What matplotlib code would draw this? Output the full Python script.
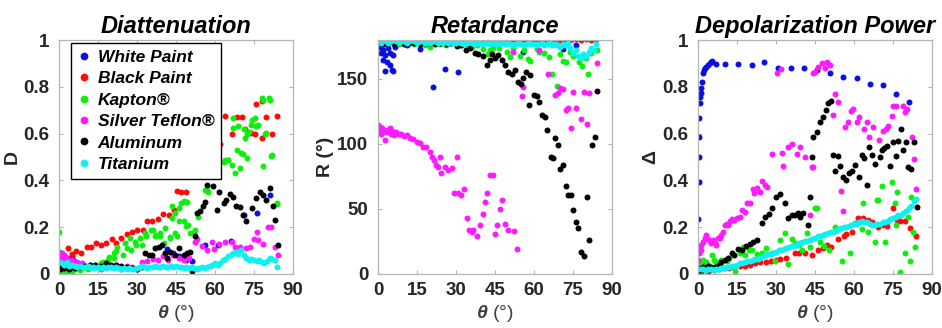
import numpy as np
import matplotlib
matplotlib.use('Agg')
import matplotlib.pyplot as plt

plt.rcParams['font.family'] = ['Liberation Sans', 'DejaVu Sans']
plt.rcParams['mathtext.fontset'] = 'custom'
plt.rcParams['mathtext.bf'] = 'Liberation Sans:bold:italic'
plt.rcParams['mathtext.rm'] = 'Liberation Sans'

materials = ['White Paint', 'Black Paint', 'Kapton®', 'Silver Teflon®', 'Aluminum', 'Titanium']
colors = ['#0a10e0', '#ff0a0a', '#10ee10', '#ff1aff', '#000000', '#10f0f0']

# angle grid for the densely sampled Titanium runs
theta_grid = np.arange(85)

# ---------------- Diattenuation D ----------------
d_white_t = [0.2, 0.5, 0.8, 1.2, 1.6, 2.0, 2.5, 3.0, 3.5, 4.0, 4.5, 5.0, 5.5, 6.0,
             41.5, 44, 46, 49, 51, 56, 61, 66, 71, 76, 81]
d_white = [0.03, 0.02, 0.05, 0.04, 0.06, 0.07, 0.05, 0.07, 0.06, 0.05, 0.07, 0.075, 0.06, 0.05,
           0.105, 0.09, 0.077, 0.06, 0.057, 0.124, 0.124, 0.14, 0.252, 0.26, 0.338]

d_black_t = [0.3, 0.8, 1.5, 2.3, 3.6, 5.0, 6.4, 8.3, 10.6, 12.2, 14.4, 16.3, 18.2, 20.3, 22.0,
             23.9, 26.2, 28.0, 30.0, 32.2, 33.8, 35.6, 37.9, 40.2, 42.3, 44.2, 45.3, 47.0, 48.8,
             55.5, 57.5, 61.8, 64.0, 66.5, 68.4, 70.3, 71.6, 73.7, 75.4, 75.8, 77.9, 77.9, 79.8,
             82.1, 84.0]
d_black = [0.09, 0.06, 0.075, 0.07, 0.11, 0.085, 0.097, 0.091, 0.117, 0.117, 0.134, 0.123, 0.134,
           0.151, 0.131, 0.155, 0.17, 0.177, 0.188, 0.188, 0.228, 0.228, 0.234, 0.256, 0.253,
           0.273, 0.356, 0.352, 0.352, 0.46, 0.52, 0.554, 0.675, 0.597, 0.67, 0.67, 0.618, 0.601,
           0.597, 0.726, 0.74, 0.582, 0.67, 0.598, 0.675]

d_kapton_t = [0.1, 0.3, 0.6, 1, 1.5, 2, 2.5, 3, 4, 5, 6, 7, 8, 9, 10, 11, 12, 13, 14, 15,
              16, 17, 18.8, 19.2, 21.1, 21.0, 22.0, 22.4,
              24.5, 25.5, 26.2, 27.5, 27.7, 29.4, 29.6, 31.3, 31.8, 33.2, 33.4, 35.5, 36, 37, 37.3,
              38.9, 39, 40.4, 40.9, 42.7, 42.8, 43.4, 43.6, 44.5, 44.7, 45.3, 46, 46, 47, 47.9,
              48.1, 48.7, 48.9, 49.3, 49.8, 50.4, 51.9, 52.4, 53.6, 56.2, 56.9, 57.5, 60.8, 61.3,
              63.3, 63.9, 65.1, 65.2, 66.4, 67.0, 67.1, 67.8, 68.4, 69, 69.7, 70.2, 70.7, 71.2,
              71.5, 72.2, 72.5, 73, 74, 74.1, 75.4, 75.8, 76.6, 77.9, 78.3, 78.6, 79.2, 79.6,
              80.7, 81.1, 81.7, 82, 83.7, 83.9]
d_kapton = [0.18, 0.095, 0.03, 0.01, 0.02, 0.04, 0.015, 0.01, 0.025, 0.01, 0.02, 0.03, 0.015,
            0.025, 0.03, 0.02, 0.035, 0.03, 0.04, 0.035, 0.045, 0.05, 0.06, 0.074, 0.067, 0.088,
            0.098, 0.114,
            0.081, 0.131, 0.11, 0.152, 0.103, 0.138, 0.124, 0.152, 0.124, 0.174, 0.16, 0.188,
            0.188, 0.16, 0.167, 0.16, 0.174, 0.131, 0.195, 0.157, 0.152, 0.238, 0.29, 0.26, 0.174,
            0.16, 0.28, 0.224, 0.302, 0.224, 0.312, 0.205, 0.309, 0.309, 0.209, 0.174, 0.181,
            0.188, 0.245, 0.359, 0.359, 0.352, 0.469, 0.5, 0.48, 0.487, 0.487, 0.487, 0.466,
            0.623, 0.665, 0.433, 0.53, 0.632, 0.454, 0.516, 0.511, 0.62, 0.58, 0.494, 0.597,
            0.608, 0.637, 0.658, 0.665, 0.632, 0.637, 0.75, 0.744, 0.463, 0.6, 0.601, 0.75,
            0.744, 0.506, 0.508, 0.302, 0.299]

d_teflon_t = [0.2, 0.6, 1, 1.5, 2, 2.5, 3, 4, 5, 6, 7, 8, 9, 10, 12, 14, 16, 18, 20, 22,
              24, 26, 28, 30, 32, 34, 36, 38, 40, 42, 44, 46, 48, 50, 52.5, 53, 55, 57, 58.9, 59.5,
              61.4, 64, 66.5, 67.8, 69.7, 72, 73.5, 75, 76, 76.7, 78.6, 80.5, 81.7, 83, 84.3]
d_teflon = [0.06, 0.08, 0.09, 0.07, 0.08, 0.06, 0.07, 0.05, 0.06, 0.045, 0.05, 0.04, 0.045,
            0.035, 0.04, 0.03, 0.02, 0.035, 0.03, 0.04, 0.02, 0.035, 0.03, 0.02, 0.05, 0.055,
            0.065, 0.06, 0.075, 0.06, 0.08, 0.07, 0.06, 0.07, 0.138, 0.15, 0.12, 0.1, 0.138,
            0.105, 0.128, 0.138, 0.138, 0.114, 0.117, 0.11, 0.117, 0.148, 0.181, 0.145, 0.128,
            0.2, 0.202, 0.117, 0.081]

d_alu_t = [0, 0.5, 1, 2, 3, 4, 5, 6, 8, 10, 12, 14, 16, 18, 20, 22, 24, 26, 28, 30,
           31.9, 33.2, 34.5, 35.8, 37, 38.3, 39.6, 40.9, 41.5, 42.8, 44.7, 46, 47.9, 49.2, 50.4,
           51.2, 52.5, 53.1, 54.2, 55.4, 56.3, 57, 59.2, 60.8, 61.4, 63.3, 64.3, 65.9, 67.1, 68.1,
           69.7, 70.9, 71.9, 74.1, 75.8, 77.3, 78.6, 79.8, 81.1, 82.4, 83, 84.3]
d_alu = [0.03, 0.02, 0.035, 0.025, 0.03, 0.02, 0.03, 0.025, 0.03, 0.035, 0.04, 0.04, 0.035,
         0.045, 0.04, 0.04, 0.035, 0.03, 0.025, 0.02, 0.031, 0.088, 0.08, 0.081, 0.11, 0.117,
         0.124, 0.088, 0.067, 0.095, 0.081, 0.11, 0.081, 0.09, 0.095, 0.014, 0.162, 0.259, 0.269,
         0.29, 0.309, 0.38, 0.376, 0.273, 0.352, 0.302, 0.316, 0.34, 0.33, 0.29, 0.288, 0.252,
         0.226, 0.28, 0.323, 0.352, 0.338, 0.316, 0.369, 0.29, 0.231, 0.124]

d_ti = [0.05, 0.045, 0.04, 0.05, 0.035, 0.04, 0.035, 0.03, 0.035, 0.03,
        0.03, 0.035, 0.03, 0.03, 0.025, 0.03, 0.025, 0.03, 0.025, 0.03,
        0.03, 0.025, 0.03, 0.025, 0.02, 0.025, 0.02, 0.025, 0.02, 0.02,
        0.025, 0.03, 0.035, 0.03, 0.025, 0.03, 0.03, 0.035, 0.03, 0.03,
        0.035, 0.03, 0.03, 0.035, 0.03, 0.035, 0.03, 0.03, 0.025, 0.03,
        0.025, 0.03, 0.025, 0.02, 0.025, 0.03, 0.025, 0.03, 0.035, 0.04,
        0.045, 0.04, 0.045, 0.06, 0.065, 0.075, 0.08, 0.09, 0.095, 0.085,
        0.1, 0.08, 0.07, 0.06, 0.065, 0.06, 0.055, 0.06, 0.05, 0.045,
        0.055, 0.07, 0.065, 0.06, 0.03]

# ---------------- Retardance R (deg) ----------------
r_white_t = [0.1, 0.5, 0.8, 1.2, 1.5, 2, 2, 2.7, 2.7, 3.3, 3.5, 4, 4.6, 4.6, 5.3, 5.9, 5.9,
             6.5, 11, 16.2, 21, 25.8, 30.9, 55.9, 71.3, 76.2]
r_white = [175, 178, 174.9, 170, 176.5, 172.3, 164.6, 168.5, 156.1, 163.3, 177, 173.6, 169.8,
           160.7, 156.9, 168.5, 156.1, 175, 176.2, 173.1, 144, 157.6, 155.6, 170.6, 173.1, 176.2]

r_black_t = list(range(0, 85, 2))
r_black = [179, 180, 179, 180, 179, 179, 180, 179, 180, 179, 180, 179, 180, 179, 180, 179, 180,
           179, 180, 181, 180, 179, 180, 181, 180, 179, 181, 180, 179, 181, 180, 181, 180, 179,
           181, 180, 181, 180, 181, 180, 181, 180, 181]

r_kapton_t = [0, 2, 4, 6, 8, 10, 12, 14, 16, 18, 19.9, 22, 24, 26, 28, 30, 32, 34, 36, 38,
              40.5, 42.4, 43.1, 44.3, 46.7, 49.5, 50.8, 52, 54.6, 56, 57.8, 58.5, 61, 62, 64,
              65.9, 66.8, 68.7, 70, 71.3, 72.3, 73.8, 75, 77.4, 78.3, 80, 80.9, 82, 84.1]
r_kapton = [178, 177, 179, 178, 177, 178, 179, 177, 178, 176, 174.5, 178, 177, 176, 178, 177,
            176, 177, 175, 176, 172.8, 169, 172.3, 173.6, 173.6, 171, 167, 174, 168, 172, 165.4,
            163.8, 173, 171, 170, 167, 153.5, 144.7, 169, 163.8, 163.3, 170.5, 168, 163.3, 160.2,
            166, 153.5, 170, 172.3]

r_teflon_t = [0, 0.3, 0.6, 1, 1.5, 2, 2.7, 3, 3.5, 4, 4.5, 5, 5.5, 6, 7, 8, 9, 10, 11, 12.2,
              13.5, 14.8, 16.1, 17.4, 18.6, 19.9, 20.8, 21.5, 22.2, 23.1, 23.8, 24.4, 25.7, 27,
              28.3, 29.2, 30.2, 30.8, 32.1, 33, 34.1, 35, 36, 36.6, 37.9, 39.2, 40.2, 41.1, 42,
              43.1, 44.1, 45, 45.9, 46.9, 47.6, 48.8, 50.1, 52, 52.3, 53.3, 55.3, 55.9, 62, 65.5,
              68.1, 69.4, 70, 71.3, 72.3, 73.2, 74.2, 75.1, 76.2, 78, 79.2, 80.3, 81.3, 84.3]
r_teflon = [114.7, 110, 113, 108, 112, 109, 103, 110, 111, 109, 112, 108, 110, 107, 109, 108,
            108, 106, 107, 104.9, 103.6, 101.8, 100.5, 97.9, 97.4, 94, 90.2, 87.6, 83.8, 82.5,
            90.2, 77.8, 82.5, 79.9, 81.2, 62.4, 90.2, 62.4, 60.6, 65, 43.3, 34, 32.2, 33.5, 28.9,
            37.4, 46.4, 55.4, 62.4, 76, 76, 30.4, 37.4, 50.3, 56.7, 38.1, 34, 171, 33, 19.3, 137,
            144, 172, 153.5, 137.5, 139.6, 142.7, 142.2, 126, 127.3, 112.3, 140, 127.3, 119.5,
            140, 115.7, 138.9, 162]

r_alu_t = [0, 2, 4, 6, 8, 10, 12, 14, 16, 18, 20, 22, 24, 26, 27.6, 30.2, 32, 34, 35.5, 37.3,
           38.6, 40.5, 41.8, 43, 43.7, 45, 46.3, 47.6, 48.8, 50.1, 51.4, 52.7, 54, 54.9, 55.9, 57,
           58.5, 58.2, 60, 61, 62, 63, 64.2, 65.1, 66.4, 67.4, 68.1, 69.3, 70, 71, 72.3, 73.2,
           74.2, 75.1, 76.2, 77, 78, 79.2, 80.3, 81.3, 82.2, 83.5, 84.3]
r_alu = [178, 177, 178, 177, 178, 177, 178, 178, 177, 178, 178, 177, 178, 177, 177.8, 175.2,
         176, 172.7, 174, 170, 169, 167.5, 161, 165, 169, 166, 168.5, 164.6, 160.7, 155.6, 153.5,
         156.9, 147.8, 145.8, 150.4, 155, 153, 129.8, 138, 137, 132.4, 122, 120.8, 110.5, 89.9,
         89.1, 104.6, 98.9, 80.9, 83.5, 68, 60.8, 60.8, 49.5, 39.7, 35, 17, 13.4, 59, 26.3, 99.4,
         105.4, 140.6]

r_ti = [179, 178, 180, 179, 178, 179, 180, 179, 178, 179,
        179, 178, 179, 180, 179, 178, 179, 179, 178, 179,
        178, 179, 179, 178, 179, 178, 179, 178, 179, 178,
        178, 179, 178, 177, 178, 179, 178, 177, 178, 178,
        177, 178, 178, 177, 178, 177, 178, 177, 178, 177,
        178, 177, 176, 177, 178, 177, 176, 177, 178, 177,
        177, 176, 177, 178, 176, 177, 178, 176, 177, 176,
        175, 177, 176, 178, 174, 170, 172, 168, 166, 169,
        168, 171, 174, 172, 177]

# ---------------- Depolarization power ----------------
p_white_t = [0, 0.26, 0.4, 0.45, 0.5, 0.64, 0.9, 1.1, 1.3, 1.6, 1.9, 2.2, 2.6, 3.2, 3.9, 4.5,
             5.1, 5.5, 7.1, 10.5, 15.4, 20.8, 25.4, 30.6, 35.7, 40.9, 45.6, 50.8, 55.9, 61.1,
             66, 71.1, 76.1, 81]
p_white = [0.234, 0.395, 0.5, 0.584, 0.665, 0.73, 0.758, 0.775, 0.793, 0.822, 0.858, 0.87,
           0.879, 0.886, 0.893, 0.9, 0.907, 0.91, 0.896, 0.896, 0.897, 0.893, 0.907, 0.879,
           0.879, 0.882, 0.872, 0.86, 0.84, 0.836, 0.812, 0.808, 0.769, 0.736]

p_black_t = [0, 1, 2, 3, 4, 5, 6, 8, 10, 12, 14, 16, 18, 20, 22, 24, 26, 28, 30, 31.5, 34,
             37.3, 39, 41.2, 43.7, 46, 48, 49.5, 51, 53.7, 56, 57, 59.1, 61.7, 63.6, 65.5, 67,
             69.1, 71, 72.6, 75.1, 76.5, 77.7, 79.6, 81.5, 83.7]
p_black = [0.015, 0.01, 0.02, 0.015, 0.01, 0.02, 0.015, 0.02, 0.025, 0.025, 0.03, 0.035,
           0.035, 0.04, 0.045, 0.05, 0.05, 0.055, 0.06, 0.063, 0.07, 0.088, 0.09, 0.091, 0.081,
           0.1, 0.11, 0.124, 0.115, 0.148, 0.16, 0.17, 0.181, 0.238, 0.238, 0.231, 0.22, 0.202,
           0.21, 0.205, 0.281, 0.23, 0.224, 0.228, 0.195, 0.162]

p_kapton_t = [0, 0.5, 1, 1.4, 2, 3, 4, 5.3, 6, 7, 8, 9, 11, 12, 14.2, 16, 17.4, 18.1, 19.5,
              20.9, 22.5, 24.5, 26, 28.3, 29.6, 31.5, 33.5, 34.5, 36, 37.3, 38.8, 40.1, 41.8,
              43.1, 45, 45.7, 46.9, 48.5, 50.5, 52.7, 55.3, 58.5, 60.4, 63, 63.6, 65.5, 68.1,
              68.7, 69.1, 70.7, 71.9, 74.5, 75.8, 76, 76.7, 77.7, 79.6, 80.9, 81.5, 81.8, 82.8,
              83.5]
p_kapton = [0.02, 0.04, 0.03, 0.046, 0.06, 0.05, 0.04, 0.081, 0.06, 0.05, 0.04, 0.06, 0.053,
            0.07, 0.014, 0.09, 0.117, 0.081, 0.1, 0.103, 0.085, 0.088, 0.11, 0.091, 0.053, 0.145,
            0.174, 0.043, 0.148, 0.13, 0.124, 0.103, 0.174, 0.117, 0.281, 0.281, 0.138, 0.12,
            0.1, 0.202, 0.053, 0.088, 0.217, 0.191, 0.305, 0.181, 0.138, 0.316, 0.316, 0.376,
            0.138, 0.394, 0.302, 0.209, 0.352, 0.01, 0.088, 0.245, 0.053, 0.33, 0.181, 0.117]

p_teflon_t = [0, 0.3, 0.6, 1, 1.3, 1.9, 2.6, 3.2, 3.9, 4.5, 5.1, 5.8, 6.5, 7.1, 7.7, 8.4, 9,
              9.6, 10.3, 11.2, 11.7, 12.2, 13.2, 14, 15, 16.2, 16.9, 18, 18.9, 20, 21, 21.7,
              22.6, 23.8, 24.5, 25.7, 26.4, 28.6, 30.3, 31.9, 32.4, 32.8, 34.5, 36, 37.9, 39.2,
              41.2, 43.1, 43.7, 44.1, 44.2, 45, 46.3, 47.6, 48.8, 49.7, 50.8, 51.8, 52.7, 54,
              54.9, 55.9, 56.5, 57.8, 58.7, 59.7, 61, 62, 63.8, 65.1, 65.9, 67.2, 69.7, 71, 72.3,
              73.2, 74.5, 75.1, 76.2, 78.7, 79.6, 80.5, 82.2, 83.1, 83.8]
p_teflon = [0.06, 0.09, 0.11, 0.124, 0.1, 0.138, 0.152, 0.167, 0.15, 0.142, 0.131, 0.145, 0.13,
            0.124, 0.152, 0.152, 0.167, 0.181, 0.209, 0.214, 0.209, 0.224, 0.234, 0.231, 0.238,
            0.245, 0.274, 0.266, 0.305, 0.305, 0.362, 0.345, 0.366, 0.352, 0.399, 0.38, 0.373,
            0.513, 0.858, 0.875, 0.518, 0.462, 0.544, 0.556, 0.513, 0.544, 0.499, 0.252, 0.456,
            0.456, 0.86, 0.865, 0.886, 0.903, 0.879, 0.907, 0.893, 0.679, 0.769, 0.736, 0.356,
            0.271, 0.627, 0.651, 0.698, 0.704, 0.651, 0.67, 0.618, 0.651, 0.587, 0.627, 0.573,
            0.612, 0.618, 0.632, 0.675, 0.718, 0.718, 0.718, 0.694, 0.704, 0.587, 0.49, 0.362]

p_alu_t = [0, 0.5, 1, 1.5, 2, 3, 4, 5, 6.5, 8, 9, 10.4, 11.5, 13, 14, 15.5, 17, 18.5, 20, 21.3,
           22.6, 24.5, 25.8, 27.3, 28.6, 29.9, 31.5, 33.5, 34.7, 36, 37.3, 38.5, 39.2, 40.5, 42.4,
           43.1, 43.9, 44.3, 45.7, 46.9, 48.2, 49.2, 50.1, 51, 51.8, 52.7, 54, 54.6, 55.9, 56.9,
           58.2, 59.1, 60.4, 62, 63, 63.8, 65.1, 65.9, 66.8, 68.1, 70, 70.7, 71.5, 72.8, 73.8,
           74.9, 76.2, 77, 77.9, 79, 80, 80.9, 81.8, 83.1, 84.1]
p_alu = [0.02, 0.015, 0.025, 0.02, 0.03, 0.02, 0.035, 0.03, 0.031, 0.04, 0.05, 0.06, 0.07,
         0.088, 0.08, 0.106, 0.1, 0.12, 0.128, 0.138, 0.145, 0.219, 0.245, 0.256, 0.281, 0.33,
         0.342, 0.302, 0.238, 0.25, 0.252, 0.26, 0.245, 0.262, 0.209, 0.33, 0.501, 0.584, 0.608,
         0.651, 0.672, 0.701, 0.729, 0.741, 0.509, 0.441, 0.504, 0.462, 0.416, 0.402, 0.43,
         0.441, 0.466, 0.413, 0.509, 0.494, 0.38, 0.544, 0.509, 0.47, 0.501, 0.53, 0.537, 0.547,
         0.462, 0.565, 0.504, 0.57, 0.618, 0.53, 0.565, 0.456, 0.447, 0.565, 0.288]

p_ti = [0.02, 0.02, 0.02, 0.015, 0.02, 0.02, 0.015, 0.02, 0.02, 0.025,
        0.025, 0.03, 0.03, 0.035, 0.035, 0.04, 0.045, 0.045, 0.05, 0.055,
        0.055, 0.06, 0.065, 0.065, 0.07, 0.075, 0.08, 0.085, 0.085, 0.09,
        0.095, 0.1, 0.1, 0.105, 0.11, 0.115, 0.12, 0.12, 0.125, 0.13,
        0.135, 0.14, 0.14, 0.145, 0.15, 0.155, 0.16, 0.16, 0.165, 0.17,
        0.175, 0.18, 0.18, 0.185, 0.19, 0.195, 0.2, 0.2, 0.205, 0.21,
        0.215, 0.215, 0.22, 0.225, 0.22, 0.22, 0.215, 0.21, 0.21, 0.215,
        0.215, 0.22, 0.22, 0.225, 0.235, 0.24, 0.245, 0.25, 0.25, 0.26,
        0.27, 0.28, 0.29, 0.31, 0.32]

panels = [
    ('Diattenuation', 'D', (0, 1),
     [(d_white_t, d_white), (d_black_t, d_black), (d_kapton_t, d_kapton),
      (d_teflon_t, d_teflon), (d_alu_t, d_alu), (theta_grid, d_ti)]),
    ('Retardance', 'R (°)', (0, 180),
     [(r_white_t, r_white), (r_black_t, r_black), (r_kapton_t, r_kapton),
      (r_teflon_t, r_teflon), (r_alu_t, r_alu), (theta_grid, r_ti)]),
    ('Depolarization Power', 'Δ', (0, 1),
     [(p_white_t, p_white), (p_black_t, p_black), (p_kapton_t, p_kapton),
      (p_teflon_t, p_teflon), (p_alu_t, p_alu), (theta_grid, p_ti)]),
]

fig = plt.figure(figsize=(9.42, 3.28), dpi=100)
lefts = [0.0626, 0.4013, 0.741]

for k, (title, ylab, ylim, series) in enumerate(panels):
    ax = fig.add_axes([lefts[k], 0.165, 0.2484, 0.713])
    for (t, v), c, name in zip(series, colors, materials):
        ax.plot(t, v, 'o', color=c, ms=4.3, mew=0, label=name)
    ax.set_xlim(0, 90)
    ax.set_ylim(*ylim)
    ax.set_xticks(range(0, 91, 15))
    if ylim[1] == 1:
        ax.set_yticks([0, 0.2, 0.4, 0.6, 0.8, 1])
        ax.set_yticklabels(['0', '0.2', '0.4', '0.6', '0.8', '1'])
    else:
        ax.set_yticks([0, 50, 100, 150])
    for s in ax.spines.values():
        s.set_color('#b5b5b5')
        s.set_linewidth(0.9)
    ax.tick_params(direction='in', length=3, width=0.8, color='#b5b5b5',
                   top=True, right=True, labelsize=13.5, labelcolor='#262626')
    ax.tick_params(axis='x', pad=6)
    ax.tick_params(axis='y', pad=7)
    for lb in ax.get_xticklabels() + ax.get_yticklabels():
        lb.set_fontweight('bold')
    ax.set_title(title, fontsize=17, fontweight='bold', fontstyle='italic', pad=5)
    ax.set_ylabel(ylab, fontsize=14, fontweight='bold', labelpad=2, color='#262626')
    ax.set_xlabel(r'$\mathbf{\theta}$ (°)', fontsize=14, labelpad=3, color='#404040')

    if k == 0:
        leg = ax.legend(loc='upper left', bbox_to_anchor=(0.05, 0.988), borderaxespad=0,
                        frameon=True, fancybox=False, handlelength=0.7, handletextpad=0.45,
                        borderpad=0.4, labelspacing=0.36, markerscale=1.3,
                        prop={'weight': 'bold', 'style': 'italic', 'size': 12.5})
        leg.get_frame().set_edgecolor('black')
        leg.get_frame().set_linewidth(1.0)
        leg.get_frame().set_alpha(1)
        leg.set_zorder(10)

fig.savefig('out.png', dpi=100)
